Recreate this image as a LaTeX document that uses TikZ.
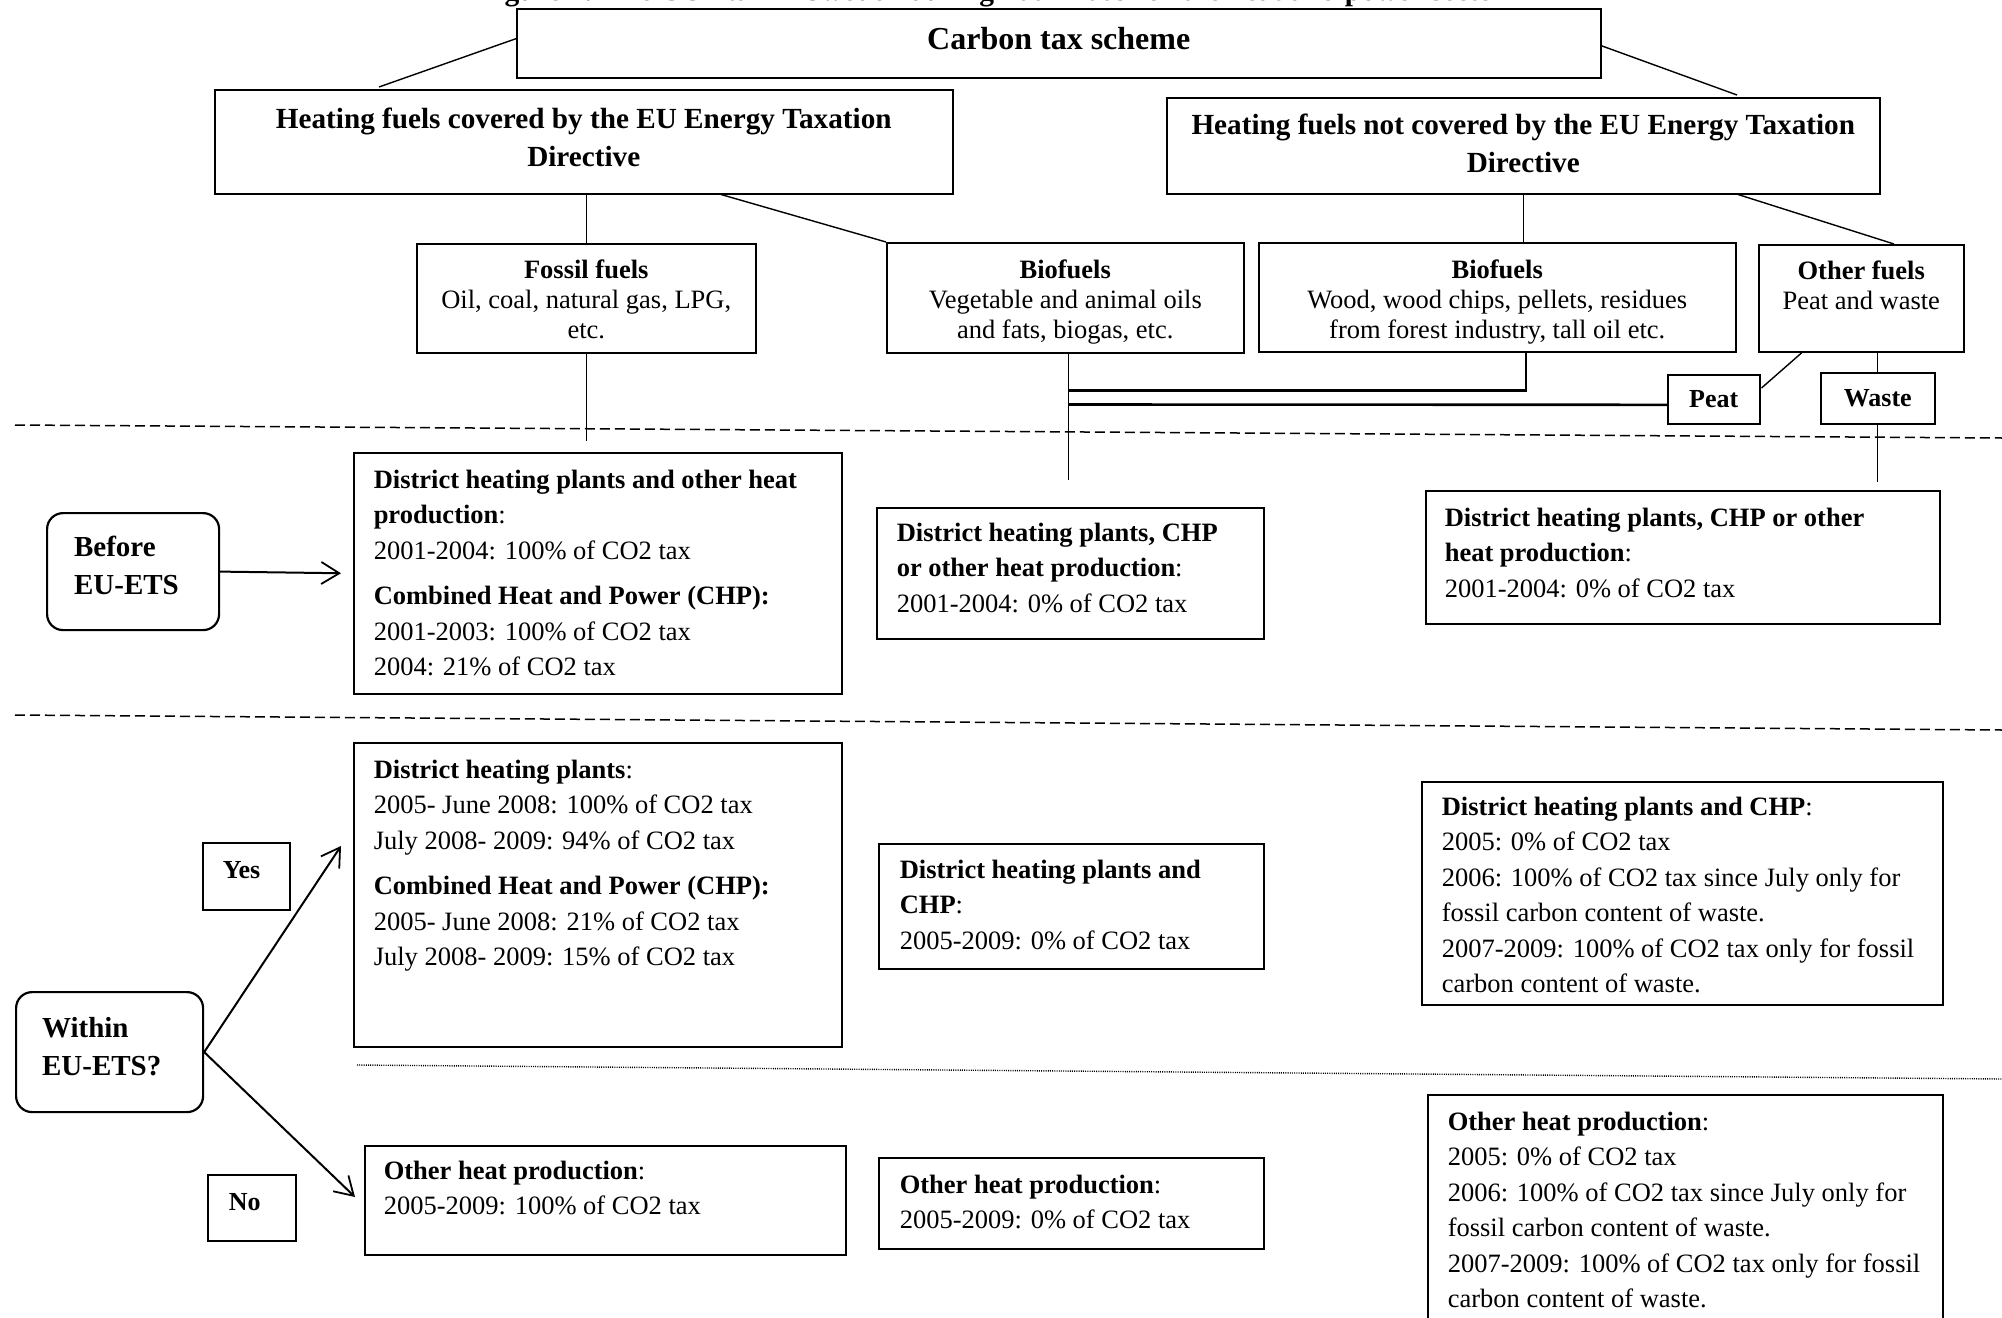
\documentclass[tikz,border=0pt]{standalone}
\usepackage{fontspec}
\setmainfont{Liberation Serif}
\usetikzlibrary{calc,arrows.meta}
\newcommand\fbody{\fontsize{13.25pt}{17.75pt}\selectfont}
\newcommand\ffuel{\fontsize{13.25pt}{15pt}\selectfont}
\newcommand\fhead{\fontsize{14.6pt}{19pt}\selectfont\bfseries}
\newcommand\fcarbon{\fontsize{16pt}{19pt}\selectfont\bfseries}
\newcommand\fround{\fontsize{14.5pt}{19pt}\selectfont\bfseries}
\newcommand\fsmall{\fontsize{13pt}{15pt}\selectfont\bfseries}
% [style]{name}{x}{y}{w}{h}{padx}{pady}{content}  (all in px)
\newcommand\tbx[9][]{%
  \pgfmathsetlengthmacro\tbW{(#5-2*#7)*0.5}%
  \pgfmathsetlengthmacro\tbH{(#6-2*#8)*0.5}%
  \node[tb, inner xsep=#7*0.5pt, inner ysep=#8*0.5pt, #1] (#2) at (#3,#4)
    {\parbox[t][\tbH][t]{\tbW}{#9}};%
}
\tikzset{
  tb/.style={draw, line width=0.75pt, anchor=north west, fill=white},
  roundbox/.style={rounded corners=8pt, line width=1.1pt},
  conn/.style={line width=0.7pt},
  thickconn/.style={line width=1.3pt},
  arr/.style={line width=1pt, -{Straight Barb[length=9pt,width=11pt,line width=0.9pt]}},
  sepline/.style={line width=0.75pt, dash pattern=on 5pt off 2.5pt},
  dotline/.style={line width=0.7pt, dash pattern=on 0.5pt off 0.6pt},
}
\begin{document}
\begin{tikzpicture}[x=0.5pt,y=-0.5pt]
\useasboundingbox (0,0) rectangle (2002,1317);
\fill[white] (0,0) rectangle (2002,1317);
\clip (0,0) rectangle (2002,1317);

\node[anchor=base west, inner sep=0pt, font=\fontsize{14.75pt}{16pt}\selectfont\bfseries] (title) at (478,0) {Figure 4: The CO2 tax in Sweden during 2001-2009 for the heat and power sector};

% separators
\draw[sepline] (15,425) -- (2002,438);
\draw[sepline] (15,715) -- (2002,730);
\draw[dotline] (357,1065) -- (2002,1079);

% top level
\tbx{carbon}{516}{8}{1084}{69}{20}{19}{\centering\fcarbon Carbon tax scheme}
\tbx{covered}{214}{89}{738}{104}{10}{18}{\centering\fhead Heating fuels covered by the EU Energy Taxation\\Directive}
\tbx{notcov}{1166}{97}{713}{96}{8}{16}{\centering\fhead Heating fuels not covered by the EU Energy Taxation\\Directive}

% fuels
\tbx{fossil}{416}{243}{339}{109}{10}{16}{\centering\ffuel\textbf{Fossil fuels}\\Oil, coal, natural gas, LPG,\\etc.}
\tbx{bio1}{886}{242}{357}{110}{10}{17}{\centering\ffuel\textbf{Biofuels}\\Vegetable and animal oils\\and fats, biogas, etc.}
\tbx{bio2}{1258}{242}{477}{109}{10}{17}{\centering\ffuel\textbf{Biofuels}\\Wood, wood chips, pellets, residues\\from forest industry, tall oil etc.}
\tbx{other}{1758}{244}{205}{107}{5}{16}{\centering\ffuel\textbf{Other fuels}\\Peat and waste}
\tbx{peat}{1667}{374}{92}{47}{3}{16}{\centering\fsmall Peat}
\tbx{waste}{1820}{372}{114}{48}{3}{17}{\centering\fsmall Waste}

% left labels
\tbx[roundbox]{before}{46}{512}{172}{117}{27}{23}{\raggedright\fround Before\\EU-ETS}
\tbx[roundbox]{within}{15}{991}{187}{120}{26}{25}{\raggedright\fround Within\\EU-ETS?}
\tbx{yes}{202}{842}{87}{67}{20}{19}{\raggedright\fsmall Yes}
\tbx{no}{207}{1174}{88}{66}{21}{19}{\raggedright\fsmall No}

% before EU-ETS row
\tbx{bef1}{353}{452}{488}{241}{20}{17}{\raggedright\fbody
\mbox{\textbf{District heating plants and other heat}}\\
\textbf{production}:\\
\mbox{2001-2004: 100\% of CO2 tax}\\[5pt]
\mbox{\textbf{Combined Heat and Power (CHP):}}\\
\mbox{2001-2003: 100\% of CO2 tax}\\
2004: 21\% of CO2 tax}
\tbx{bef2}{876}{507}{387}{131}{20}{15}{\raggedright\fbody
\mbox{\textbf{District heating plants, CHP}}\\
\mbox{\textbf{or other heat production}:}\\
\mbox{2001-2004: 0\% of CO2 tax}}
\tbx{bef3}{1425}{490}{514}{133}{19}{17}{\raggedright\fbody
\mbox{\textbf{District heating plants, CHP or other}}\\
\textbf{heat production}:\\
\mbox{2001-2004: 0\% of CO2 tax}}

% within EU-ETS: yes
\tbx{yes1}{353}{742}{488}{304}{20}{17}{\raggedright\fbody
\textbf{District heating plants}:\\
\mbox{2005- June 2008: 100\% of CO2 tax}\\
\mbox{July 2008- 2009: 94\% of CO2 tax}\\[5pt]
\mbox{\textbf{Combined Heat and Power (CHP):}}\\
\mbox{2005- June 2008: 21\% of CO2 tax}\\
\mbox{July 2008- 2009: 15\% of CO2 tax}}
\tbx{yes2}{878}{843}{385}{125}{21}{16}{\raggedright\fbody
\mbox{\textbf{District heating plants and}}\\
\textbf{CHP}:\\
\mbox{2005-2009: 0\% of CO2 tax}}
\tbx{yes3}{1421}{781}{521}{223}{20}{15}{\raggedright\fbody
\mbox{\textbf{District heating plants and CHP}:}\\
2005: 0\% of CO2 tax\\
\mbox{2006: 100\% of CO2 tax since July only for}\\
\mbox{fossil carbon content of waste.}\\
\mbox{2007-2009: 100\% of CO2 tax only for fossil}\\
\mbox{carbon content of waste.}}

% within EU-ETS: no
\tbx{no1}{364}{1145}{481}{109}{19}{15}{\raggedright\fbody
\textbf{Other heat production}:\\
\mbox{2005-2009: 100\% of CO2 tax}}
\tbx{no2}{878}{1157}{385}{91}{21}{17}{\raggedright\fbody
\textbf{Other heat production}:\\
\mbox{2005-2009: 0\% of CO2 tax}}
\tbx{no3}{1427}{1094}{515}{270}{20}{17}{\raggedright\fbody
\textbf{Other heat production}:\\
2005: 0\% of CO2 tax\\
\mbox{2006: 100\% of CO2 tax since July only for}\\
\mbox{fossil carbon content of waste.}\\
\mbox{2007-2009: 100\% of CO2 tax only for fossil}\\
\mbox{carbon content of waste.}}

% connectors, top tree
\draw[conn] ($(carbon.north west)!0.435!(carbon.south west)$) -- ($(covered.north west)+(165,-2)$);
\draw[conn] ($(carbon.north east)!0.536!(carbon.south east)$) -- ($(notcov.north west)+(571,-2)$);
\draw[conn] (fossil.north |- covered.south) -- (fossil.north);
\draw[conn] ($(covered.south west)+(507,0)$) -- (bio1.north west);
\draw[conn] (notcov.south) -- (notcov.south |- bio2.north);
\draw[conn] ($(notcov.south west)+(572,0)$) -- ($(other.north west)+(136,0)$);

% connectors, down to the rows
\coordinate (fend) at ($(fossil.south)+(0,87)$);
\draw[conn] (fossil.south) -- (fend);
\coordinate (b1top) at ($(bio1.south)+(3,0)$);
\coordinate (b1end) at ($(b1top)+(0,126)$);
\draw[conn] (b1top) -- (b1end);
\draw[thickconn] ($(bio2.south west)+(268,0)$) |- ($(b1top)+(0,37)$);
\draw[thickconn] ($(peat.north west)!0.61!(peat.south west)$) -- ($(b1top)+(0,51)$);
\draw[conn] ($(other.south west)+(44,0)$) -- ($(peat.north east)+(1,14)$);
\draw[conn] (waste.north |- other.south) -- (waste.north);
\coordinate (wend) at ($(waste.south)+(0,57)$);
\draw[conn] (waste.south) -- (wend);

% arrows
\draw[arr] (before.east) -- ($(bef1.west)+(-12,0)$);
\draw[arr] (within.east) -- ($(yes1.north west)+(-12,104)$);
\draw[arr] (within.east) -- ($(no1.north west)+(-9,52)$);
\end{tikzpicture}
\end{document}
